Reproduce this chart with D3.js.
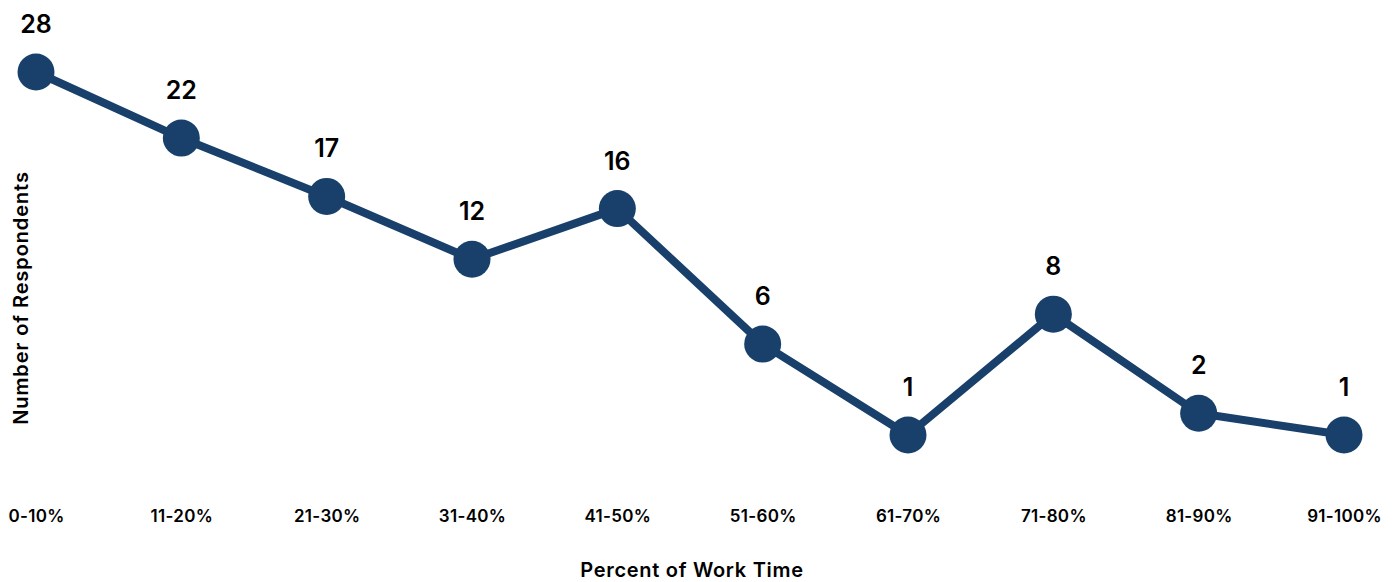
<!DOCTYPE html>
<html>
<head>
<meta charset="utf-8">
<script src="https://cdn.jsdelivr.net/npm/d3@7"></script>
<style>
    html, body { margin: 0; padding: 0; background: #fff; }
    svg { display: block; font-family: Inter, "Open Sans", sans-serif; }
</style>
</head>
<body>
<div id="chart-area"></div>
<script>
    const WIDTH = 1398,
        HEIGHT = 582,
        X_LEFT = 36,
        X_RIGHT = 1344,
        Y_TOP = 72,
        Y_BOTTOM = 435,
        RADIUS = 18.5,
        COLOR_LINE = '#18406a',
        STROKE_WIDTH_LINE = 8,
        COLOR_TEXT = '#000'
        ;

    // data
    const categories = ["0-10%", "11-20%", "21-30%", "31-40%", "41-50%",
        "51-60%", "61-70%", "71-80%", "81-90%", "91-100%"];
    const respondents = [28, 22, 17, 12, 16, 6, 1, 8, 2, 1];

    const data = categories.map((c, i) => ({ category: c, value: respondents[i] }));

    let svg = d3.select("#chart-area")
        .append("svg")
        .attr("width", WIDTH)
        .attr("height", HEIGHT);

    let x = d3.scalePoint()
        .domain(categories)
        .range([X_LEFT, X_RIGHT]);

    // the original chart's vertical spacing is compressed toward the top
    let y = d3.scalePow()
        .exponent(0.76)
        .domain([1, 28])
        .range([Y_BOTTOM, Y_TOP]);

    // x axis labels only, no line or ticks
    let xAxis = svg.append("g")
        .attr("transform", `translate(0, 510)`)
        .call(d3.axisBottom(x).tickSize(0).tickPadding(0));
    xAxis.select(".domain").remove();
    xAxis.selectAll("text")
        .attr("dy", "0.71em")
        .attr("fill", COLOR_TEXT)
        .style("font-size", "17px")
        .style("font-weight", 600)
        .style("letter-spacing", "0.3px")
        .style("font-family", "Inter, sans-serif");

    svg.append("path")
        .datum(data)
        .attr("fill", "none")
        .attr("stroke", COLOR_LINE)
        .attr("stroke-width", STROKE_WIDTH_LINE)
        .attr("stroke-linejoin", "round")
        .attr("d", d3.line()
            .x(d => x(d.category))
            .y(d => y(d.value)));

    svg.append("g")
        .selectAll("circle")
        .data(data)
        .join("circle")
        .attr("cx", d => x(d.category))
        .attr("cy", d => y(d.value))
        .attr("r", RADIUS)
        .attr("fill", COLOR_LINE);

    svg.append("g")
        .selectAll("text")
        .data(data)
        .join("text")
        .attr("x", d => x(d.category))
        .attr("y", d => y(d.value) - 39)
        .attr("text-anchor", "middle")
        .attr("fill", COLOR_TEXT)
        .style("font-size", "25px")
        .style("font-weight", 600)
        .text(d => d.value);

    svg.append("text")
        .attr("x", 692)
        .attr("y", 577)
        .attr("text-anchor", "middle")
        .attr("fill", COLOR_TEXT)
        .style("font-size", "20px")
        .style("font-weight", 600)
        .style("letter-spacing", "0.7px")
        .text("Percent of Work Time");

    svg.append("text")
        .attr("transform", "translate(28, 298) rotate(-90)")
        .attr("text-anchor", "middle")
        .attr("fill", COLOR_TEXT)
        .style("font-size", "20px")
        .style("font-weight", 600)
        .style("letter-spacing", "0.9px")
        .text("Number of Respondents");
</script>
</body>
</html>
